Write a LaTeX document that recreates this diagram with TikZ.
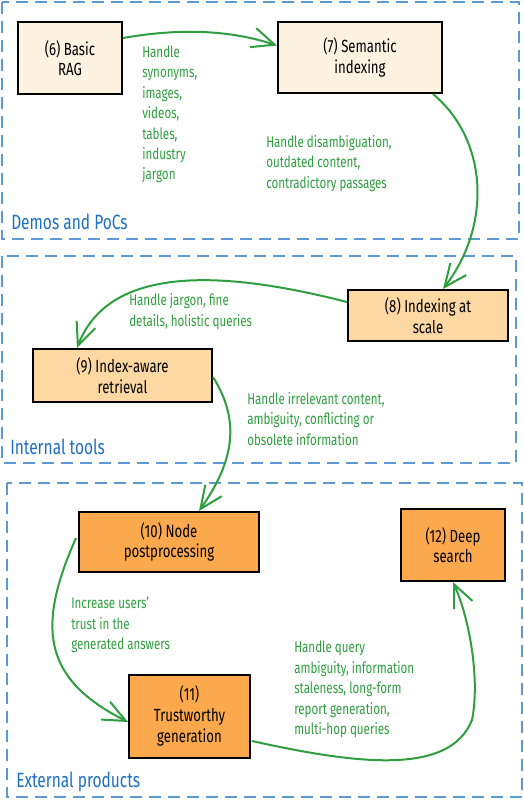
\documentclass[tikz,border=0pt]{standalone}
\usepackage{fontspec}
\setmainfont{Fira Sans}[FakeStretch=0.75]
\usetikzlibrary{arrows.meta,calc}
\definecolor{lightfill}{HTML}{FEF2E1}
\definecolor{midfill}{HTML}{FDD8A2}
\definecolor{darkfill}{HTML}{FBA94C}
\definecolor{flowgreen}{HTML}{2E9E3E}
\definecolor{regionblue}{HTML}{5B9BD5}
\definecolor{regiontext}{HTML}{1E6FC3}
\tikzset{
  stage/.style={draw=black, line width=1.5pt, align=center, inner sep=2pt,
    font=\fontsize{13.2}{15.5}\selectfont},
  region/.style={draw=regionblue, line width=1.5pt, dash pattern=on 9pt off 5.25pt},
  regionlabel/.style={anchor=west, inner sep=0pt, text=regiontext,
    font=\fontsize{15.5}{17}\selectfont},
  flowlabel/.style={anchor=west, align=left, inner sep=0pt, text=flowgreen,
    font=\fontsize{11.6}{15.3}\selectfont},
  flow/.style={draw=flowgreen, line width=1.5pt,
    -{Straight Barb[length=17pt,width=15pt,line width=1.5pt]}}
}
\begin{document}
\begin{tikzpicture}[x=0.75pt,y=-0.75pt]
\useasboundingbox (0,0) rectangle (524,800);
% regions
\draw[region] (2,2) rectangle (519,239);
\draw[region] (2,256) rectangle (516,463);
\draw[region] (7,483) rectangle (522,797);
\node[regionlabel] (r1) at (11,222) {Demos and PoCs};
\node[regionlabel] (r2) at (10,447) {Internal tools};
\node[regionlabel] (r3) at (16,782) {External products};
% stages
\node[stage, fill=lightfill, minimum width=78pt, minimum height=54pt] (n6) at (70,58) {(6) Basic\\RAG};
\node[stage, fill=lightfill, minimum width=123pt, minimum height=53.25pt] (n7) at (360,57.5) {(7) Semantic\\indexing};
\node[stage, fill=midfill, minimum width=120pt, minimum height=38.25pt] (n8) at (428,315.5) {(8) Indexing at\\scale};
\node[stage, fill=midfill, minimum width=134.25pt, minimum height=39.75pt] (n9) at (122.5,375.5) {(9) Index-aware\\retrieval};
\node[stage, fill=darkfill, minimum width=135pt, minimum height=45pt] (n10) at (169,542) {(10) Node\\postprocessing};
\node[stage, fill=darkfill, minimum width=90.75pt, minimum height=62.25pt] (n11) at (189.5,716) {(11)\\Trustworthy\\generation};
\node[stage, fill=darkfill, minimum width=78pt, minimum height=54pt] (n12) at (453,545) {(12) Deep\\search};
% flow labels
\node[flowlabel] (l1) at (142,114.5) {Handle\\synonyms,\\images,\\videos,\\tables,\\industry\\jargon};
\node[flowlabel] (l2) at (266,163.5) {Handle disambiguation,\\outdated content,\\contradictory passages};
\node[flowlabel] (l3) at (129,311.5) {Handle jargon, fine\\details, holistic queries};
\node[flowlabel] (l4) at (247,419) {Handle irrelevant content,\\ambiguity, conflicting or\\obsolete information};
\node[flowlabel] (l5) at (71,625) {Increase users'\\trust in the\\generated answers};
\node[flowlabel] (l6) at (294,689.5) {Handle query\\ambiguity, information\\staleness, long-form\\report generation,\\multi-hop queries};
% flows
\draw[flow] ($(n6.east)+(0,-20)$) .. controls (180,28) and (230,30) .. ($(n7.west)+(0,-12)$);
\draw[flow] ($(n7.south)+(73,0)$) .. controls (488,140) and (492,225) .. ($(n8.north)+(15,0)$);
\draw[flow] ($(n8.west)+(0,-13.5)$) .. controls (230,272) and (110,262) .. ($(n9.north)+(-45.5,0)$);
\draw[flow] ($(n9.east)+(0,1.5)$) .. controls (240,420) and (235,460) .. ($(n10.north)+(30,0)$);
\draw[flow] ($(n10.west)+(-2,-4)$) .. controls (35,630) and (45,680) .. ($(n11.west)+(0,6)$);
\coordinate (bend) at (472,720);
\draw[flow] ($(n11.east)+(1,25)$) .. controls (360,765) and (450,775) .. (bend)
  .. controls (480,680) and (470,620) .. (n12.south);
\end{tikzpicture}
\end{document}
